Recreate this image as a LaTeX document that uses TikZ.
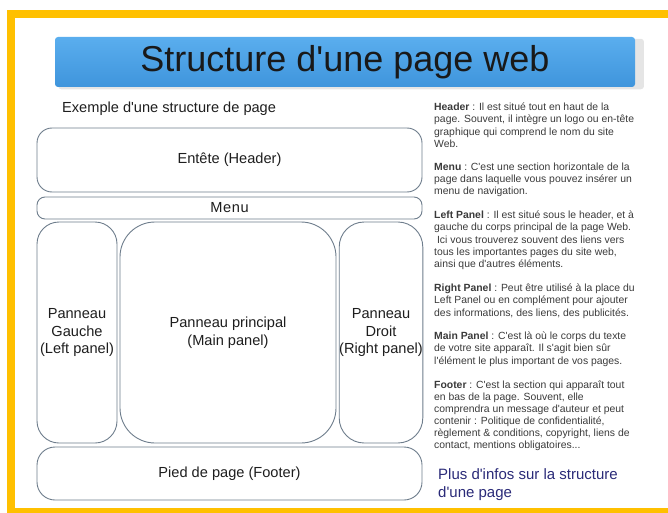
\documentclass[tikz,border=0pt]{standalone}
\usepackage{fontspec}
\setmainfont{Liberation Sans}
\usetikzlibrary{shadows}

\definecolor{framegold}{HTML}{FFC000}
\definecolor{bannertop}{HTML}{5AAEEE}
\definecolor{bannerbot}{HTML}{3F95DC}
\definecolor{boxline}{HTML}{6E7D8C}
\definecolor{boxtext}{HTML}{1E1E1E}
\definecolor{notetext}{HTML}{3A3A3A}
\definecolor{linkblue}{HTML}{2A2A78}

\newcommand{\ap}{\textquotesingle}

\begin{document}
\begin{tikzpicture}[
        x=1pt, y=-1pt,
        banner/.style={top color=bannertop, bottom color=bannerbot, rounded corners=3pt,
            minimum width=580pt, minimum height=50pt, inner sep=0pt, text=black!90,
            font=\fontsize{36}{40}\selectfont,
            general shadow={fill=black!10, shadow xshift=6pt, shadow yshift=-2pt, shadow scale=1.01}},
        panel/.style={draw=boxline, line width=0.9pt, fill=white, inner sep=0pt, align=center,
            text=boxtext, font=\fontsize{14.6}{17.5}\selectfont},
        note/.style={anchor=north west, inner sep=0pt, align=left, text=notetext,
            font=\fontsize{10.4}{12.1}\selectfont}
    ]

    \useasboundingbox (0,0) rectangle (668,513);
    \clip (0,0) rectangle (668,513);

    % frame
    \draw[framegold, line width=8pt] (11,14.5) rectangle (700,511.5);

    % title
    \node[banner] (title) at (345,62) {Structure d\ap une page web};

    % page structure
    \node[anchor=base west, inner sep=0pt, text=boxtext, font=\fontsize{14.6}{17.5}\selectfont]
        (example) at (62,113) {Exemple d\ap une structure de page};

    \node[panel, minimum width=385pt, minimum height=64pt, rounded corners=15pt]
        (header) at (229.5,160) {Entête (Header)};
    \node[panel, minimum width=385pt, minimum height=22pt, rounded corners=8pt]
        (menu) at (229.5,208) {\addfontfeature{LetterSpace=4}Menu};

    \node[panel, minimum width=80pt, minimum height=221pt, rounded corners=22pt]
        (left) at (77,332.5) {Panneau\\Gauche\\(Left panel)};
    \node[panel, minimum width=216pt, minimum height=221pt, rounded corners=35pt]
        (main) at (228,332.5) {Panneau principal\\(Main panel)};
    \node[panel, minimum width=82pt, minimum height=221pt, rounded corners=25pt]
        (right) at (381,332.5) {Panneau\\Droit\\(Right panel)};

    \node[panel, minimum width=385pt, minimum height=53pt, rounded corners=18pt]
        (footer) at (229.5,473.5) {Pied de page (Footer)};

    % notes
    \node[note] (nheader) at (434,103) {{\bfseries Header} : Il est situé tout en haut de la\\
        page. Souvent, il intègre un logo ou en-tête\\
        graphique qui comprend le nom du site\\
        Web.};
    \node[note] (nmenu) at (434,163) {{\bfseries Menu} : C\ap est une section horizontale de la\\
        page dans laquelle vous pouvez insérer un\\
        menu de navigation.};
    \node[note] (nleft) at (434,211) {{\bfseries Left Panel} : Il est situé sous le header, et à\\
        gauche du corps principal de la page Web.\\
        \ Ici vous trouverez souvent des liens vers\\
        tous les importantes pages du site web,\\
        ainsi que d\ap autres éléments.};
    \node[note] (nright) at (434,284) {{\bfseries Right Panel} : Peut être utilisé à la place du\\
        Left Panel ou en complément pour ajouter\\
        des informations, des liens, des publicités.};
    \node[note] (nmain) at (434,332) {{\bfseries Main Panel} : C\ap est là où le corps du texte\\
        de votre site apparaît. Il s\ap agit bien sûr\\
        l\ap élément le plus important de vos pages.};
    \node[note] (nfooter) at (434,380.5) {{\bfseries Footer} : C\ap est la section qui apparaît tout\\
        en bas de la page. Souvent, elle\\
        comprendra un message d\ap auteur et peut\\
        contenir : Politique de confidentialité,\\
        règlement \& conditions, copyright, liens de\\
        contact, mentions obligatoires...};

    \node[anchor=base west, inner sep=0pt, align=left, text=linkblue,
        font=\fontsize{15}{18}\selectfont]
        (more) at (438,497) {Plus d\ap infos sur la structure\\d\ap une page};

\end{tikzpicture}
\end{document}
